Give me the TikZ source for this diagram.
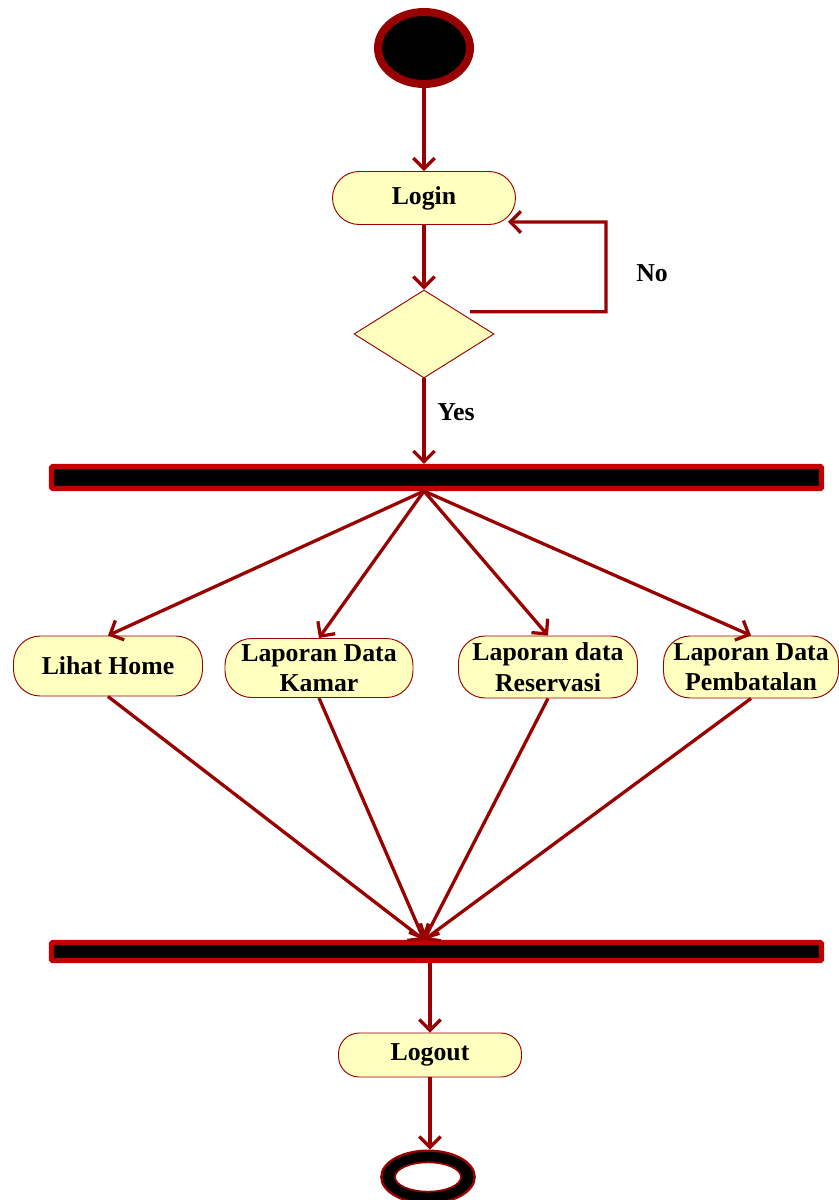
\documentclass[tikz,border=0pt]{standalone}
\usepackage{fontspec}
\setmainfont{Liberation Serif}
\usetikzlibrary{positioning,arrows.meta,shapes.geometric}
\definecolor{FlowRed}{RGB}{153,0,0}
\definecolor{BarRed}{RGB}{192,0,0}
\definecolor{ActYellow}{RGB}{255,255,192}
\tikzset{
  flow/.style={-{Straight Barb[length=3.2mm,width=6.4mm]},line width=2.8pt,draw=FlowRed},
  actbox/.style={draw=FlowRed,fill=ActYellow,line width=0.8pt,rounded corners=0.8cm,
    inner sep=0pt,align=center,font=\fontsize{22}{26}\selectfont\bfseries},
  decision/.style={diamond,draw=FlowRed,fill=ActYellow,line width=0.8pt,inner sep=0pt,
    minimum width=4.2cm,minimum height=2.64cm},
  syncbar/.style={draw=BarRed,fill=black,line width=4.4pt,rounded corners=1pt,
    minimum width=23.1cm},
  lbl/.style={font=\fontsize{22}{26}\selectfont\bfseries}
}

\begin{document}
\begin{tikzpicture}[x=0.03cm,y=-0.03cm]
  \useasboundingbox (0,0) rectangle (839,1200);
  % start and login
  \node[ellipse,draw=FlowRed,fill=black,line width=6.8pt,minimum width=2.76cm,
    minimum height=2.16cm] (start) at (424,48) {};
  \node[actbox,minimum width=5.49cm,minimum height=1.59cm] (login) at (424,198) {Login};
  \node[decision] (check) at (424,334) {};
  \node[lbl] (nolabel) at (652,273) {No};
  \node[lbl] (yeslabel) at (456,412) {Yes};
  % fork bar
  \node[syncbar,minimum height=0.66cm] (fork) at (436.5,477.5) {};
  % activities
  \node[actbox,minimum width=5.67cm,minimum height=1.8cm] (home) at (108,666) {Lihat Home};
  \node[actbox,minimum width=5.64cm,minimum height=1.77cm] (kamar) at (319,668) {Laporan Data\\Kamar};
  \node[actbox,minimum width=5.37cm,minimum height=1.86cm] (reservasi) at (548,667) {Laporan data\\Reservasi};
  \node[actbox,minimum width=5.25cm,minimum height=1.86cm] (pembatalan) at (751,667) {Laporan Data\\Pembatalan};
  % join bar, logout, end
  \node[syncbar,minimum height=0.54cm] (join) at (436.5,951.5) {};
  \node[actbox,minimum width=5.49cm,minimum height=1.32cm,rounded corners=0.62cm] (logout) at (430,1055) {Logout};
  \node[ellipse,draw=FlowRed,fill=black,line width=2pt,minimum width=2.8cm,
    minimum height=1.58cm] (final) at (428,1177) {};
  \node[ellipse,draw=FlowRed,fill=white,line width=1.5pt,minimum width=1.98cm,
    minimum height=0.88cm] (finalcore) at (final) {};
  \coordinate (loopturn) at (606,222);

  \draw[flow] (start) -- (login);
  \draw[flow] (login) -- (check);
  \draw[flow] ([shift={(11,0)}]check.north east) -| (loopturn) -- ([shift={(-8,-3)}]login.south east);
  \draw[flow] (check) -- (login |- fork.north);
  \foreach \act in {home,kamar,reservasi,pembatalan}{
    \draw[flow] (login |- fork.south) -- (\act.north);
    \draw[flow] (\act.south) -- (login |- join.north);
  }
  \draw[flow] (logout |- join.south) -- (logout);
  \draw[flow] (logout) -- (logout |- final.north);
\end{tikzpicture}
\end{document}
